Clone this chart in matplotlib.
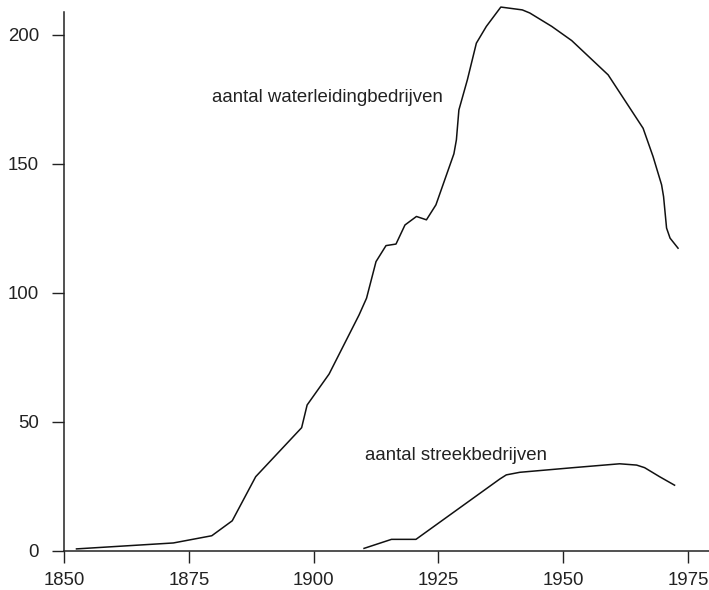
import matplotlib
matplotlib.use("Agg")
import matplotlib.pyplot as plt

plt.rcParams['font.family'] = ['Liberation Sans', 'DejaVu Sans']

# aantal waterleidingbedrijven
water_jaar = [1852.5, 1871.9, 1879.6, 1883.7, 1888.4, 1897.6, 1898.7, 1903.1, 1909.1,
              1910.6, 1912.5, 1914.5, 1916.5, 1918.3, 1920.6, 1922.6, 1924.5, 1928.1,
              1928.6, 1929.1, 1930.8, 1932.6, 1934.6, 1937.5, 1941.8, 1943.3, 1947.7,
              1951.7, 1959.0, 1966.0, 1968.0, 1969.7, 1970.1, 1970.7, 1971.4, 1973.0]
water_aantal = [0.7, 3.0, 5.8, 11.6, 28.7, 47.7, 56.5, 68.5, 91.4,
                97.9, 112.1, 118.3, 118.9, 126.3, 129.6, 128.3, 134.1, 153.9,
                159.3, 170.9, 182.6, 196.8, 203.3, 210.8, 209.7, 208.5, 203.3,
                197.8, 184.5, 163.8, 152.8, 141.9, 137.3, 125.1, 121.2, 117.3]

# aantal streekbedrijven
streek_jaar = [1910.1, 1915.6, 1920.5, 1937.3, 1938.6, 1941.3, 1952.0, 1961.3,
               1964.7, 1966.3, 1969.3, 1972.3]
streek_aantal = [0.9, 4.4, 4.4, 27.8, 29.4, 30.4, 32.2, 33.7,
                 33.2, 32.2, 28.7, 25.4]

x_ticks = [1850, 1875, 1900, 1925, 1950, 1975]
y_ticks = [0, 50, 100, 150, 200]

fig = plt.figure(figsize=(7.09, 5.90), dpi=100)
ax = fig.add_axes([64 / 709, 1 - 550.7 / 590, 645 / 709, 539 / 590])

ax.plot(water_jaar, water_aantal, color='#111111', lw=1.1, clip_on=False)
ax.plot(streek_jaar, streek_aantal, color='#111111', lw=1.1, clip_on=False)

ax.text(1879.6, 175.7, 'aantal waterleidingbedrijven', fontsize=13.4,
        color='#222222', va='center', ha='left')
ax.text(1910.3, 37.0, 'aantal streekbedrijven', fontsize=13.4,
        color='#222222', va='center', ha='left')

ax.set_xlim(1850, 1979.2)
ax.set_ylim(0, 209)
ax.set_xticks(x_ticks)
ax.set_yticks(y_ticks)
ax.spines['top'].set_visible(False)
ax.spines['right'].set_visible(False)
for s in ['left', 'bottom']:
    ax.spines[s].set_color('#222222')
    ax.spines[s].set_linewidth(1.1)
ax.tick_params(axis='both', length=8.5, width=1.0, color='#222222',
               labelsize=13.4, labelcolor='#222222', direction='out')
ax.tick_params(axis='y', pad=9.5)
ax.tick_params(axis='x', pad=6.5)

fig.savefig('out.png', dpi=100)
